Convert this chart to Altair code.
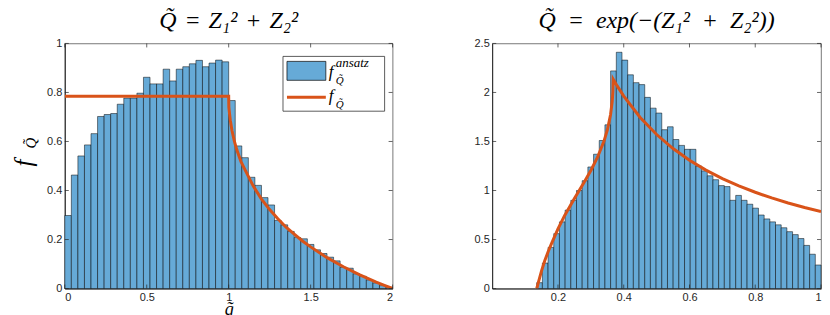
import altair as alt
import pandas as pd

# ---------------- data ----------------
left_bin_width = 0.04
left_heights = [0.298, 0.463, 0.541, 0.586, 0.632, 0.702, 0.710, 0.714, 0.752, 0.777,
                0.777, 0.797, 0.862, 0.835, 0.835, 0.895, 0.847, 0.895, 0.905, 0.917,
                0.931, 0.905, 0.920, 0.932, 0.925,
                0.767, 0.582, 0.534, 0.454, 0.421, 0.371, 0.341, 0.278, 0.260, 0.233,
                0.208, 0.203, 0.180, 0.158, 0.143, 0.128, 0.113, 0.086, 0.083, 0.060,
                0.050, 0.035, 0.023, 0.012, 0.005]

right_start = 0.1353
right_bin_width = 0.017294
right_heights = [0.06, 0.26, 0.42, 0.56, 0.68, 0.80, 0.90, 1.00, 1.10, 1.24,
                 1.37, 1.51, 1.67, 2.22, 2.41, 2.33, 2.18, 2.10, 2.08, 1.95,
                 1.84, 1.79, 1.62, 1.65, 1.52,
                 1.46, 1.42, 1.42, 1.25, 1.20, 1.15, 1.11, 1.05, 1.04, 0.90,
                 0.95, 0.90, 0.86, 0.82, 0.75, 0.71, 0.68, 0.65, 0.62, 0.58,
                 0.55, 0.51, 0.44, 0.35, 0.24]

left_curve_q = [0.0, 1.0, 1.001, 1.005, 1.01, 1.02, 1.035, 1.05, 1.075, 1.1, 1.15, 1.2,
                1.25, 1.3, 1.35, 1.4, 1.45, 1.5, 1.6, 1.7, 1.8, 1.9, 1.95, 2.0]
left_curve_f = [0.785, 0.785, 0.740, 0.715, 0.686, 0.645, 0.600, 0.565, 0.518, 0.484,
                0.418, 0.365, 0.322, 0.285, 0.250, 0.222, 0.194, 0.170, 0.126, 0.089,
                0.056, 0.026, 0.013, 0.0]

right_curve_t = [0.1353, 0.137, 0.14, 0.15, 0.16, 0.17, 0.18, 0.2, 0.22, 0.25, 0.28, 0.3,
                 0.32, 0.34, 0.35, 0.36, 0.365, 0.367, 0.3679, 0.38, 0.4, 0.45, 0.5,
                 0.55, 0.6, 0.65, 0.7, 0.75, 0.8, 0.85, 0.9, 0.95, 1.0]
right_curve_f = [0.0, 0.018, 0.058, 0.18, 0.285, 0.375, 0.455, 0.608, 0.743, 0.918, 1.086,
                 1.204, 1.337, 1.504, 1.615, 1.775, 1.91, 2.007, 2.135, 2.067, 1.963,
                 1.745, 1.571, 1.428, 1.309, 1.208, 1.122, 1.047, 0.982, 0.924, 0.873,
                 0.827, 0.785]

left_xticks = [0, 0.5, 1, 1.5, 2]
left_yticks = [0, 0.2, 0.4, 0.6, 0.8, 1]
right_xticks = [0.2, 0.4, 0.6, 0.8, 1]
right_yticks = [0, 0.5, 1, 1.5, 2, 2.5]

S3 = "\u2004"
SP = "\u2002"
left_title = "Q\u0303" + S3 + "=" + S3 + "Z\u2081\u00b2" + S3 + "+" + S3 + "Z\u2082\u00b2"
right_title = ("Q\u0303" + SP + "=" + SP + "exp(\u2212(Z\u2081\u00b2" + SP + "+" + SP
               + "Z\u2082\u00b2))")

# ---------------- style ----------------
WL, WR, H = 329, 330, 246
BAR = "#66AAD7"
ORANGE = "#D95319"
AX = "#262626"
SERIF = "Liberation Serif"
SANS = "Liberation Sans"


def bins_df(start, width, heights):
    return pd.DataFrame({
        "x0": [start + i * width for i in range(len(heights))],
        "x1": [start + (i + 1) * width for i in range(len(heights))],
        "h": heights,
        "z": [0.0] * len(heights),
    })


def panel(bdf, ldf, xdom, ydom, xticks, yticks, xtitle, W):
    xs = alt.Scale(domain=xdom, nice=False, zero=False)
    ys = alt.Scale(domain=ydom, nice=False, zero=False)
    xaxis = alt.Axis(values=xticks, format="~g", title=xtitle)
    yaxis = alt.Axis(values=yticks, format="~g", title=None)

    bars = alt.Chart(bdf).mark_rect(color=BAR, stroke="black", strokeWidth=0.5,
                                    opacity=1).encode(
        x=alt.X("x0:Q", scale=xs, axis=xaxis),
        x2="x1:Q",
        y=alt.Y("h:Q", scale=ys, axis=yaxis),
        y2="z:Q",
    )
    line = alt.Chart(ldf).mark_line(color=ORANGE, strokeWidth=3, clip=True).encode(
        x=alt.X("x:Q", scale=xs, axis=xaxis),
        y=alt.Y("y:Q", scale=ys, axis=yaxis),
    )
    xt = pd.DataFrame({"v": xticks})
    yt = pd.DataFrame({"v": yticks})
    tb = alt.Chart(xt).mark_rule(color=AX, strokeWidth=0.7).encode(
        x=alt.X("v:Q", scale=xs, axis=xaxis), y=alt.value(H), y2=alt.value(H - 4))
    tt = alt.Chart(xt).mark_rule(color=AX, strokeWidth=0.7).encode(
        x=alt.X("v:Q", scale=xs, axis=xaxis), y=alt.value(0), y2=alt.value(4))
    tl = alt.Chart(yt).mark_rule(color=AX, strokeWidth=0.7).encode(
        y=alt.Y("v:Q", scale=ys, axis=yaxis), x=alt.value(0), x2=alt.value(4))
    tr = alt.Chart(yt).mark_rule(color=AX, strokeWidth=0.7).encode(
        y=alt.Y("v:Q", scale=ys, axis=yaxis), x=alt.value(W), x2=alt.value(W - 4))
    return [bars, line, tb, tt, tl, tr]


left_bars = bins_df(0.0, left_bin_width, left_heights)
left_line = pd.DataFrame({"x": left_curve_q, "y": left_curve_f})
right_bars = bins_df(right_start, right_bin_width, right_heights)
right_line = pd.DataFrame({"x": right_curve_t, "y": right_curve_f})

L_layers = panel(left_bars, left_line, [0, 2], [0, 1], left_xticks, left_yticks,
                 "q\u0303", WL)
R_layers = panel(right_bars, right_line, [0, 1], [0, 2.5], right_xticks, right_yticks,
                 None, WR)

one = pd.DataFrame({"k": [0]})

# legend (inside left panel)
lg_box = alt.Chart(one).mark_rect(fill="white", stroke="#333333", strokeWidth=0.8).encode(
    x=alt.value(219), x2=alt.value(321), y=alt.value(13), y2=alt.value(68))
lg_sw = alt.Chart(one).mark_rect(fill=BAR, stroke="black", strokeWidth=0.7).encode(
    x=alt.value(223), x2=alt.value(262), y=alt.value(18), y2=alt.value(37))
lg_ln = alt.Chart(one).mark_rule(color=ORANGE, strokeWidth=3).encode(
    x=alt.value(223), x2=alt.value(262), y=alt.value(54))


def txt(s, x, y, size, angle=0, align="left", baseline="middle"):
    return alt.Chart(one).mark_text(text=s, font=SERIF, fontStyle="italic", fontSize=size,
                                    angle=angle, align=align, baseline=baseline,
                                    color="black").encode(x=alt.value(x), y=alt.value(y))


lg_texts = [
    txt("f", 265, 29, 17),
    txt("ansatz", 272, 20, 13),
    txt("Q\u0303", 272, 38, 11),
    txt("f", 265, 53, 17),
    txt("Q\u0303", 272, 62, 11),
]

ylab = [
    txt("f", -41, 120, 25, angle=270, align="center"),
    txt("Q\u0303", -34, 100, 15, angle=270, align="center"),
]

title_params = dict(font=SERIF, fontSize=24, fontWeight="normal", fontStyle="italic",
                    color="black", offset=4, anchor="middle")

left = alt.layer(*L_layers, lg_box, lg_sw, lg_ln, *lg_texts, *ylab).properties(
    width=WL, height=H, title=alt.TitleParams(left_title, **title_params))
right = alt.layer(*R_layers).properties(
    width=WR, height=H, title=alt.TitleParams(right_title, **title_params))

chart = alt.hconcat(left, right, spacing=80).configure(
    padding={"left": 3, "top": 0, "right": 0, "bottom": 0}
).configure_view(
    stroke="#555555", strokeWidth=0.8
).configure_axis(
    grid=False, ticks=False, domainColor=AX, domainWidth=1,
    labelFont=SANS, labelFontSize=11, labelColor=AX, labelPadding=3,
    titleFont=SERIF, titleFontSize=18, titleFontStyle="italic", titleFontWeight="normal",
    titleColor="black", titlePadding=-2,
)

chart.save("out.html", embed_options={"renderer": "svg", "actions": False})
